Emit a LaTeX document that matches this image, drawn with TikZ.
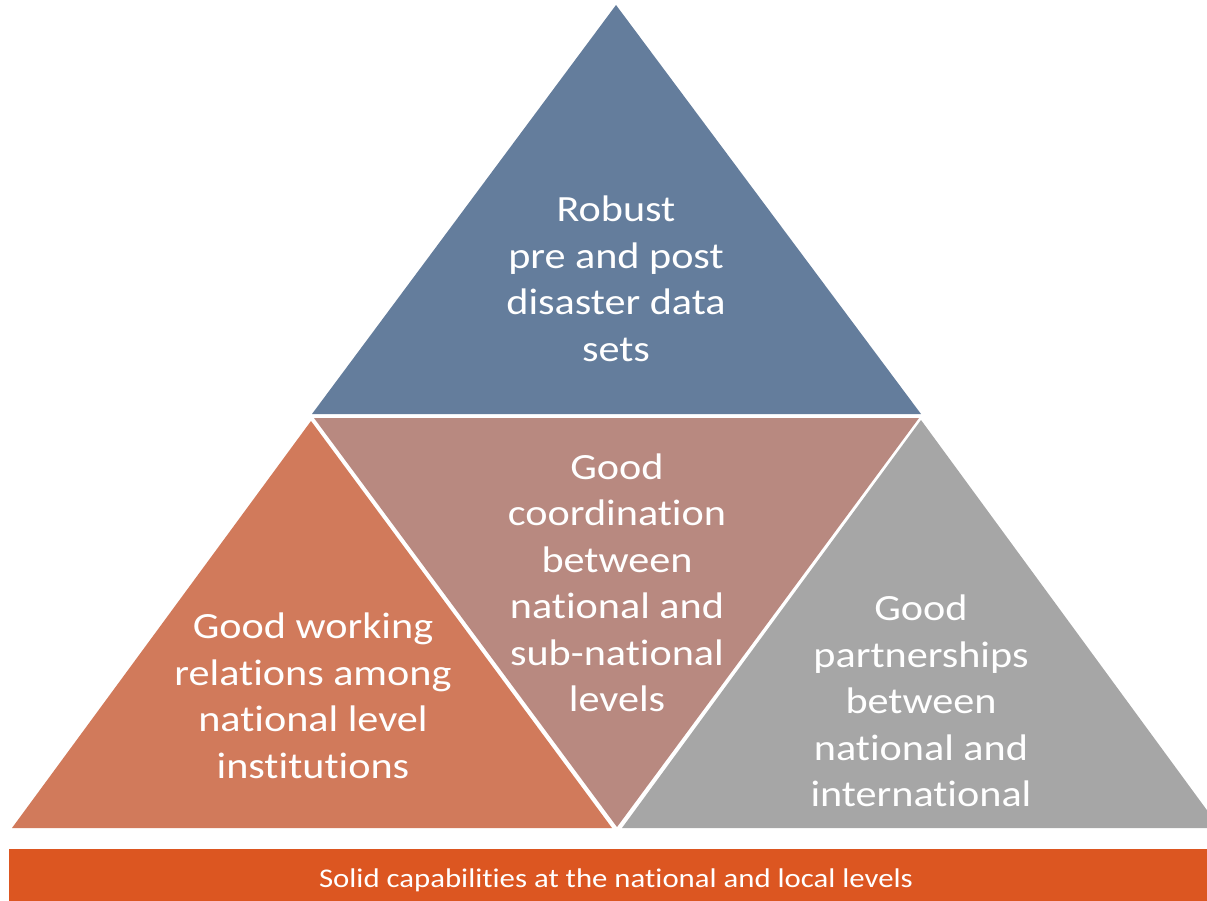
\documentclass[tikz,border=0pt]{standalone}
\usepackage{fontspec}
\setmainfont{Carlito}[FakeStretch=1.14, Ligatures=NoCommon]
\usepackage{tikz}
\usetikzlibrary{positioning}
\definecolor{topblue}{RGB}{100,125,156}
\definecolor{leftorange}{RGB}{209,122,91}
\definecolor{midrose}{RGB}{184,137,128}
\definecolor{rightgray}{RGB}{166,166,166}
\definecolor{barorange}{RGB}{220,86,33}
\tikzset{
  piece/.style={draw=none},
  bigtext/.style={text=white, align=center, inner sep=0pt,
    font=\fontsize{37}{46.5}\selectfont},
  bartext/.style={text=white, inner sep=0pt, font=\fontsize{27}{30}\selectfont}
}

\begin{document}
\begin{tikzpicture}[x=1pt,y=-1pt]

  \useasboundingbox (0,0) rectangle (1207,901);
  \clip (0,0) rectangle (1207,901);

  %% corners of the pieces
  \coordinate (topA) at (616,5);
  \coordinate (topL) at (312,414);
  \coordinate (topR) at (921,414);
  \coordinate (midL) at (314,418);
  \coordinate (midR) at (919,418);
  \coordinate (midB) at (617,827);
  \coordinate (lefA) at (311,421);
  \coordinate (lefL) at (12,828);
  \coordinate (lefR) at (612,828);
  \coordinate (rigA) at (921,420);
  \coordinate (rigL) at (622,828);
  \coordinate (rigR) at (1220,828);

  \fill[piece, topblue] (topA) -- (topR) -- (topL) -- cycle; % top
  \fill[piece, midrose] (midL) -- (midR) -- (midB) -- cycle; % middle
  \fill[piece, leftorange] (lefA) -- (lefR) -- (lefL) -- cycle; % left
  \fill[piece, rightgray] (rigA) -- (rigR) -- (rigL) -- cycle; % right

  %% bottom bar
  \fill[barorange] (9,849) rectangle (1220,901);

  \node[bigtext] (robust) at (616,279) {Robust\\pre and post\\disaster data\\sets};
  \node[bigtext] (working) at (313,696) {Good working\\relations among\\national level\\institutions};
  \node[bigtext] (coord) at (617,583) {Good\\coordination\\between\\national and\\sub-national\\levels};
  \node[bigtext] (partner) at (921,701) {Good\\partnerships\\between\\national and\\international};
  \node[bartext] (solid) at (616,880) {Solid capabilities at the national and local levels};

\end{tikzpicture}
\end{document}
